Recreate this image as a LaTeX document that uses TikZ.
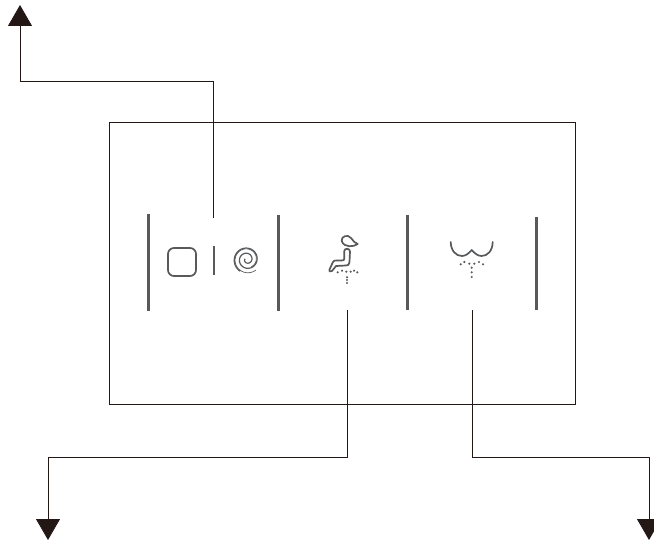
\documentclass[tikz,border=0pt]{standalone}
\usepackage{tikz}
\usetikzlibrary{arrows.meta}
\definecolor{iconGray}{HTML}{58595B}
\definecolor{lineDark}{HTML}{231815}
\tikzset{
panel line/.style={draw=lineDark,line width=0.8pt},
lead line/.style={draw=lineDark,line width=0.8pt,-{Triangle[width=24pt,length=21pt,fill=lineDark]}},
bar line/.style={draw=iconGray,line width=3pt},
icon line/.style={draw=iconGray,line width=1.7pt,line join=round,line cap=round},
thin icon line/.style={draw=iconGray,line width=0.7pt},
spray dot/.style={circle,fill=iconGray,inner sep=0,minimum size=2.4pt},
}
\begin{document}
\begin{tikzpicture}[x=1pt,y=-1pt]
        \useasboundingbox (0,0) rectangle (654,540);
        \node[panel line,minimum width=466pt,minimum height=282pt,inner sep=0,anchor=north west] (panel) at (109,122) {};
        % bars
        \foreach \x/\a/\b in {148/214/311,278/215/311,407/215/310,536/217/310}  {
            \draw[bar line] (\x,\a) -- (\x,\b);
        }
        % first icon
        \node[draw=iconGray,line width=1.7pt,rounded corners=6pt,minimum width=28pt,minimum height=28pt,inner sep=0] (stopkey) at (182,262) {};
        \draw[thin icon line,line width=1.1pt] (214,246) -- (214,275);
        \draw[thin icon line,line width=1.2pt,domain=0:800,samples=100,smooth] plot ({247+(2+\x*0.0145)*cos(920-\x)},{259.5+(2+\x*0.0145)*sin(920-\x)});
        \draw[thin icon line,domain=500:870,samples=50,smooth] plot ({247+(1.2+\x*0.0145)*cos(920-\x)},{259.5+(1.2+\x*0.0145)*sin(920-\x)});
        % second icon
        \draw[icon line] (341.7,241) .. controls (341,236) and (348,234) .. (351,238) .. controls (353,241) and (355,243) .. (357.7,244) .. controls (354,247) and (344,248) .. (341.7,241) -- cycle;
        \draw[icon line] (344.3,258.5) -- (344.3,251) .. controls (344.3,248) and (350,248) .. (350,251.5) -- (349.5,262) .. controls (349.3,265) and (348,265.5) .. (346,265.5) -- (336,266) -- (332,271) .. controls (330,272.5) and (328.5,271) .. (329.5,269.5) -- (333,262) .. controls (333.5,260.5) and (335,260.5) .. (337,260.5) -- (342,260.5) .. controls (343.5,260.5) and (344.3,260) .. (344.3,258.5);
        \foreach \x/\y in {337.7/272.3,342/270.7,346.3/271.7,350.7/271.7,354/270.7,357.3/272.3,347/277.3,347/280,347/283}  {
            \node[spray dot] at (\x,\y) {};
        }
        % third icon
        \draw[icon line] (450.7,242) .. controls (451,251) and (456,256) .. (462,256) .. controls (466,256) and (469,253) .. (471.7,250) .. controls (474.5,253) and (477.5,256) .. (481.5,256) .. controls (487.5,256) and (492.5,251) .. (492.7,242);
        \foreach \x/\y in {460.7/264.3,464.3/262,469.3/263.7,474.3/263.7,479/262,483/264.3,471.7/267.7,471.7/272.3,471.7/277}  {
            \node[spray dot] at (\x,\y) {};
        }
        % leaders
        \coordinate (c0) at (213,218);
        \coordinate (c1) at (213,81);
        \coordinate (c2) at (20,81);
        \coordinate (c3) at (20,5);
        \coordinate (d0) at (347.5,310);
        \coordinate (d1) at (347.5,457);
        \coordinate (d2) at (48,457);
        \coordinate (d3) at (48,540);
        \coordinate (e0) at (472.5,310);
        \coordinate (e1) at (472.5,457);
        \coordinate (e2) at (649,457);
        \coordinate (e3) at (649,540);
        \draw[lead line] (c0) -- (c1) -- (c2) -- (c3) ;
        \draw[lead line] (d0) -- (d1) -- (d2) -- (d3) ;
        \draw[lead line] (e0) -- (e1) -- (e2) -- (e3) ;
    \end{tikzpicture}
\end{document}
